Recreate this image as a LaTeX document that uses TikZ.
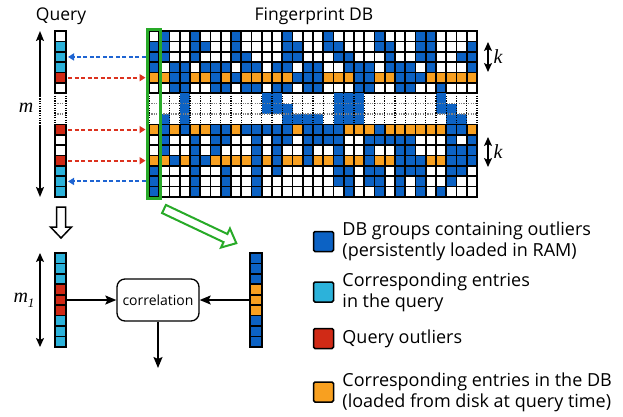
\documentclass[tikz,border=0pt]{standalone}
\usepackage{fontspec}
\setmainfont{Open Sans}
\newfontfamily\formel{Liberation Serif}
\usepackage{tikz}
\usetikzlibrary{arrows.meta}
\usetikzlibrary{positioning}
\definecolor{dbblau}{RGB}{12,98,196}
\definecolor{qtuerkis}{RGB}{44,178,218}
\definecolor{qrot}{RGB}{208,42,22}
\definecolor{dborange}{RGB}{248,160,32}
\definecolor{rahmengruen}{RGB}{40,170,40}
\definecolor{pfeilblau}{RGB}{30,100,210}
\definecolor{pfeilrot}{RGB}{220,50,30}
\newcommand{\zellb}{10.25}
\newcommand{\zellh}{10.375}

\begin{document}
\begin{tikzpicture}[x=1pt, y=-1pt,
  zelle/.style={draw=black, line width=1.7pt},
  punktlinie/.style={line width=1.2pt, dash pattern=on 1.2pt off 1.2pt},
  halbpfeil/.style={line width=1.5pt, -{Stealth[length=10pt, width=8pt, inset=2pt]}},
  pfeil/.style={line width=1.5pt, -{Stealth[length=11pt, width=9pt, inset=2pt]}},
  massstab/.style={line width=1.5pt, {Stealth[length=9pt, width=8pt, inset=2pt]}-{Stealth[length=9pt, width=8pt, inset=2pt]}},
  strich/.style={line width=1.9pt, dash pattern=on 4pt off 2.5pt, -{Triangle[length=6pt, width=7pt]}},
  korrbox/.style={draw, line width=1.3pt, rounded corners=8pt, minimum width=82pt, minimum height=42pt, font=\fontsize{14}{16}\selectfont},
  legkasten/.style={draw=black, line width=1.5pt, rounded corners=1.5pt, minimum size=20pt, inner sep=0pt},
  legtext/.style={font=\fontsize{18}{21}\selectfont, align=left, anchor=west, inner sep=0pt},
  titel/.style={font=\fontsize{17.5}{20}\selectfont, anchor=base},
  formelzeichen/.style={font=\formel\itshape\fontsize{20}{22}\selectfont, inner sep=0pt}
]
  \useasboundingbox (0,0) rectangle (623,416);

  % Ueberschriften
  \node[titel] (tq) at (61,20) {Query};
  \node[titel] (tdb) at (314,20) {Fingerprint DB};

  % Datenbank: weisse Zellen
  \foreach \r in {1,...,6,10,11,...,16}
    \foreach \c in {1,...,32}
      \draw[zelle, fill=white] ({149+(\c-1)*\zellb},{31+(\r-1)*\zellh}) rectangle ++(\zellb,\zellh);

  % Zeilen der Ausreisser (orange)
  \foreach \r in {5,10,13}
    \foreach \c in {1,...,32}
      \draw[zelle, fill=dborange] ({149+(\c-1)*\zellb},{31+(\r-1)*\zellh}) rectangle ++(\zellb,\zellh);

  % Gruppen im RAM (blau)
  \foreach \r/\spalten in {1/{2,5,9,14,18,23,27,28},
      2/{1,2,5,6,9,14,15,18,19,23,24,27,28,32},
      3/{1,2,5,9,10,14,15,19,20,24,27,28,31,32},
      4/{1,3,4,6,7,8,10,11,13,14,16,17,20,21,22,24,25,26,28,32},
      5/{3,4,7,9,15,16,17,21,22,25,26,27},
      6/{3,4,7,8,10,11,13,14,16,17,21,22,25,26,29},
      10/{2,4,7,8,10,11,12,13,14,16,17,18,19,23,30,31},
      11/{2,5,7,8,11,13,14,16,17,18,19,22,23,24,25,26,30,32},
      12/{2,5,7,11,13,16,19,22,25,26,30,31,32},
      13/{3,5,6,11,13,16,19,22,25,26,27,30,31,32},
      14/{1,5,8,11,13,19,20,22,23,25,26,27,30,31},
      15/{1,5,8,11,19,20,22,23,25,27,30},
      16/{1,5,8,11,20,23,25,27,29}}
    \foreach \c in \spalten
      \draw[zelle, fill=dbblau] ({149+(\c-1)*\zellb},{31+(\r-1)*\zellh}) rectangle ++(\zellb,\zellh);

  % ausgelassene Zeilen (gepunktet)
  \foreach \r/\spalten in {7/{4,12,13,19,20,21,29},
      8/{4,12,13,14,19,20,21,29,30},
      9/{2,4,14,15,16,17,19,20,21,30,31}}
    \foreach \c in \spalten
      \fill[dbblau] ({149+(\c-1)*\zellb},{31+(\r-1)*\zellh}) rectangle ++(\zellb,\zellh);
  \foreach \r in {7,8}
    \draw[punktlinie, gray] (149,{31+\r*\zellh}) -- ++({32*\zellb},0);
  \foreach \c in {0,...,32}
    \draw[punktlinie] ({149+\c*\zellb},{31+6*\zellh}) -- ++(0,{3*\zellh});

  % Anfrage
  \foreach \r/\farbe in {1/white,2/qtuerkis,3/qtuerkis,4/qtuerkis,5/qrot,6/white,
      10/qrot,11/white,12/white,13/qrot,14/qtuerkis,15/qtuerkis,16/qtuerkis}
    \draw[zelle, fill=\farbe] (55,{31+(\r-1)*\zellh}) rectangle ++(11,\zellh);
  \foreach \r in {7,8}
    \draw[punktlinie, gray] (55,{31+\r*\zellh}) -- ++(11,0);
  \foreach \x in {55,66}
    \draw[punktlinie] (\x,{31+6*\zellh}) -- ++(0,{3*\zellh});

  % erste Spalte (gruen)
  \draw[rahmengruen, line width=2.5pt] (147.5,29.5) rectangle (160.5,198.5);

  % Pfeile zwischen Anfrage und Datenbank
  \foreach \r in {3,15} {
    \coordinate (q\r) at (68,{31+(\r-0.5)*\zellh});
    \coordinate (g\r) at (145.5,{31+(\r-0.5)*\zellh});
    \draw[strich, pfeilblau] (g\r) -- (q\r);
  }
  \foreach \r in {5,10,13} {
    \coordinate (q\r) at (68,{31+(\r-0.5)*\zellh});
    \coordinate (g\r) at (145.5,{31+(\r-0.5)*\zellh});
    \draw[strich, pfeilrot] (q\r) -- (g\r);
  }

  % Laenge m
  \coordinate (mo) at (40,31);
  \coordinate (mu) at (40,197);
  \coordinate (mpo) at (40,96);
  \coordinate (mpu) at (40,125);
  \draw[halbpfeil] (mpo) -- (mo);
  \draw[halbpfeil] (mpu) -- (mu);
  \draw[punktlinie, line width=1.5pt] (mpo) -- (mpu);
  \node[formelzeichen] (m) at (26,108) {m};

  % Gruppengroesse k
  \coordinate (k1o) at (488,42);
  \coordinate (k1u) at (488,72);
  \coordinate (k2o) at (488,137);
  \coordinate (k2u) at (488,167);
  \draw[massstab] (k1o) -- (k1u);
  \draw[massstab] (k2o) -- (k2u);
  \node[formelzeichen] (k1) at (498,57) {k};
  \node[formelzeichen] (k2) at (498,152) {k};

  % Hohlpfeile
  \draw[line width=1.5pt, fill=white] (56.5,207) -- (65.5,207) -- (65.5,227) -- (71.5,227)
    -- (61,238) -- (50.5,227) -- (56.5,227) -- cycle;
  \begin{scope}[shift={(164,209)}, rotate=-25.3]
    \draw[rahmengruen, line width=2pt] (0,-4.5) -- (68,-4.5) -- (68,-10.5) -- (80,0)
      -- (68,10.5) -- (68,4.5) -- (0,4.5) -- cycle;
  \end{scope}

  % reduzierte Anfrage und Datenbankspalte
  \foreach \i/\farbe in {1/qtuerkis,2/qtuerkis,3/qtuerkis,4/qrot,5/qrot,6/qrot,7/qtuerkis,8/qtuerkis,9/qtuerkis}
    \draw[zelle, fill=\farbe] (55,{253+(\i-1)*10.44}) rectangle ++(11,10.44);
  \foreach \i/\farbe in {1/dbblau,2/dbblau,3/dbblau,4/dborange,5/dborange,6/dborange,7/dbblau,8/dbblau,9/dbblau}
    \draw[zelle, fill=\farbe] (250,{253+(\i-1)*10.44}) rectangle ++(12,10.44);

  % Laenge m_1
  \coordinate (m1o) at (40,253);
  \coordinate (m1u) at (40,347);
  \draw[massstab] (m1o) -- (m1u);
  \node[formelzeichen] (m1) at (24,300) {m\raisebox{-5pt}{\fontsize{13}{14}\selectfont 1}};

  % Korrelation
  \node[korrbox] (korr) at (158,300) {correlation};
  \coordinate (qrechts) at (66,300);
  \coordinate (dblinks) at (250,300);
  \coordinate (aus) at (158,368);
  \draw[pfeil] (qrechts) -- (korr);
  \draw[pfeil] (dblinks) -- (korr);
  \draw[pfeil] (korr) -- (aus);

  % Legende
  \node[legkasten, fill=dbblau] (leg1) at (323.5,241.5) {};
  \node[legtext, right=8pt of leg1] (txt1) {DB groups containing outliers\\(persistently loaded in RAM)};
  \node[legkasten, fill=qtuerkis] (leg2) at (323.5,292) {};
  \node[legtext, right=8pt of leg2] (txt2) {Corresponding entries\\in the query};
  \node[legkasten, fill=qrot] (leg3) at (323.5,338.5) {};
  \node[legtext, right=8pt of leg3] (txt3) {Query outliers};
  \node[legkasten, fill=dborange] (leg4) at (323.5,392) {};
  \node[legtext, right=8pt of leg4] (txt4) {Corresponding entries in the DB\\(loaded from disk at query time)};

\end{tikzpicture}
\end{document}
